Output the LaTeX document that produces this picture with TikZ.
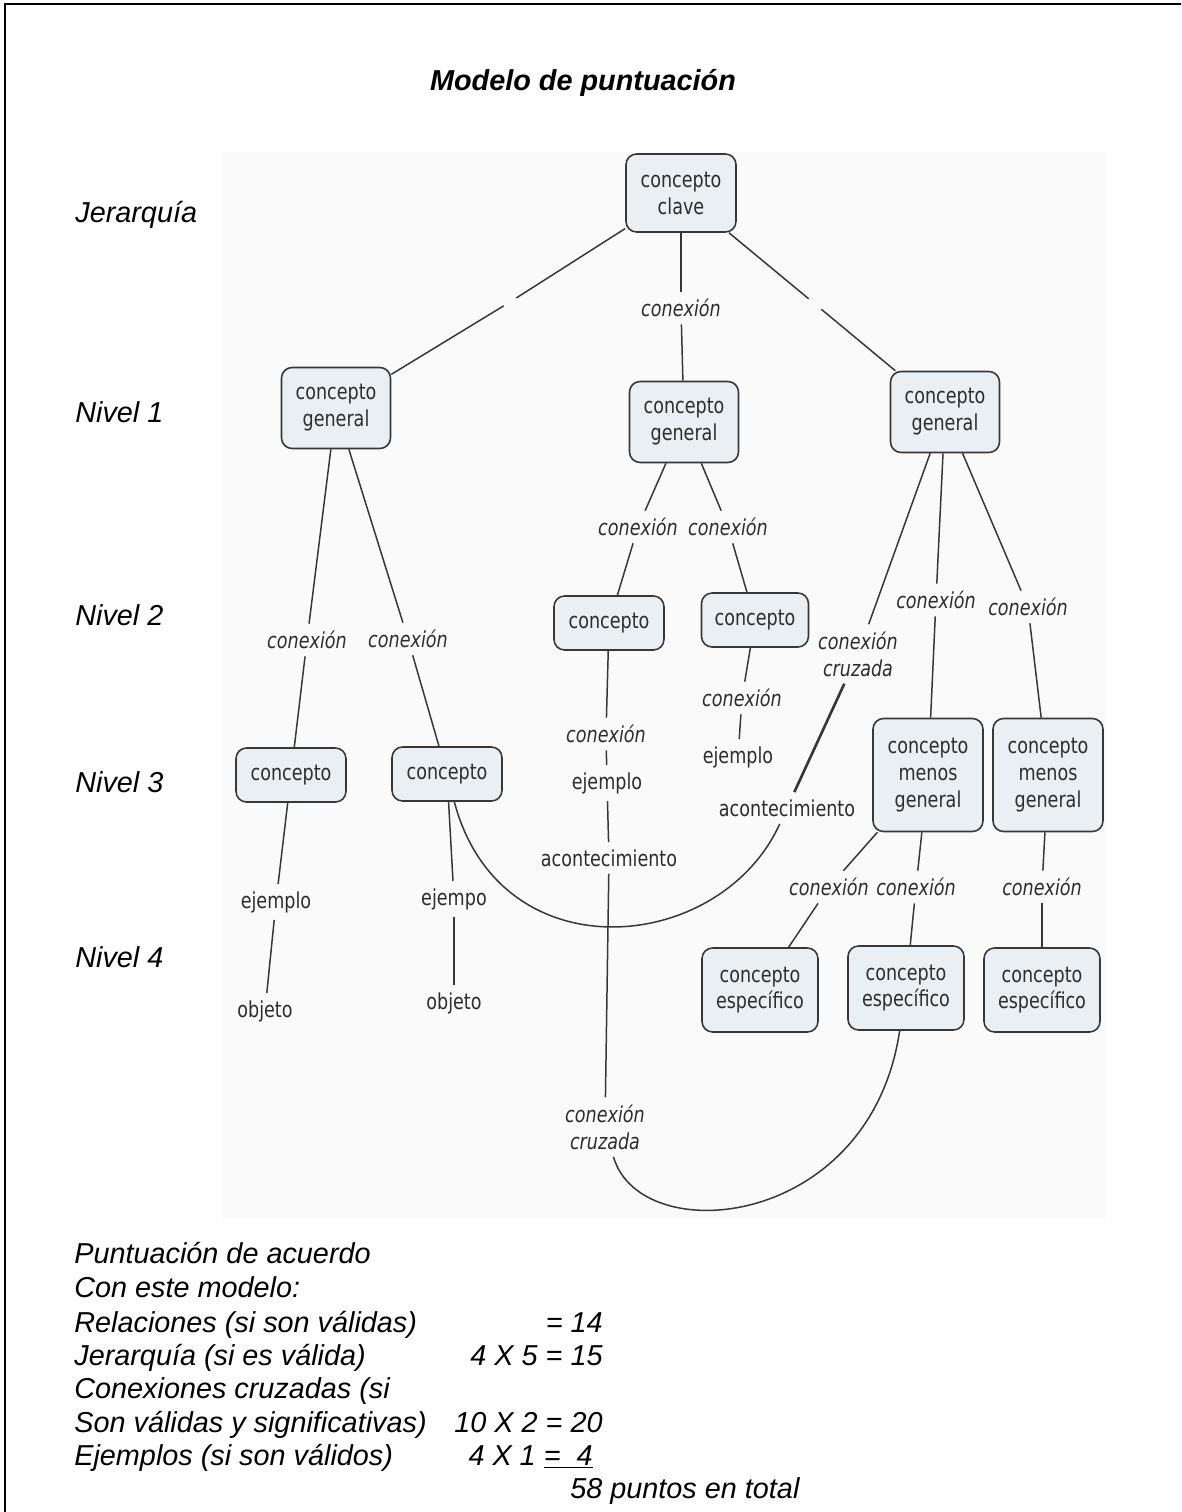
\documentclass[tikz,border=0pt]{standalone}
\usepackage{fontspec}
\setmainfont{Liberation Sans}
\newfontfamily\mapfont{DejaVu Sans}[FakeStretch=0.8]
\usetikzlibrary{positioning}
\definecolor{Ink}{RGB}{45,45,45}
\definecolor{Edge}{RGB}{55,55,55}
\definecolor{BoxFill}{RGB}{233,239,243}
\definecolor{MapBg}{RGB}{250,250,250}
\newcommand{\mapsize}{\fontsize{12.5}{15.3}\selectfont}
\newcommand{\notesize}{\fontsize{16.4}{19.5}\selectfont}
\tikzset{
  mapbox/.style={draw=Edge,fill=BoxFill,rounded corners=6pt,line width=0.9pt,font=\mapfont\mapsize,text=Ink,align=center,inner sep=2pt,minimum width=2.2cm,minimum height=1.08cm},
  genbox/.style={mapbox,minimum width=2.18cm,minimum height=1.62cm},
  lessbox/.style={mapbox,minimum height=2.26cm},
  specbox/.style={mapbox,minimum width=2.32cm,minimum height=1.68cm},
  linkword/.style={font=\mapfont\mapsize\itshape,text=Ink,align=center,inner sep=4pt},
  plainword/.style={font=\mapfont\mapsize,text=Ink,inner sep=4pt},
  gapnode/.style={inner sep=0pt,minimum size=0.24cm},
  link/.style={draw=Edge,line width=0.85pt},
  crosslink/.style={link,line width=1.5pt},
  levellabel/.style={font=\notesize\itshape,anchor=base west,inner sep=0pt},
  notetext/.style={font=\notesize\itshape,anchor=base west,inner sep=0pt},
  valtext/.style={font=\notesize\itshape,anchor=base east,inner sep=0pt}
}

\begin{document}
\begin{tikzpicture}[x=0.02cm,y=-0.02cm]
\useasboundingbox (0,0) rectangle (1181,1512);
\clip (0,0) rectangle (1181,1512);
% page frame and the pasted map area
\draw[line width=1.1pt] (5,4) rectangle (1200,1530);
\fill[MapBg] (222,152) rectangle (1106,1218);

\node[font=\notesize\bfseries\itshape,anchor=base] (title) at (583,90) {Modelo de puntuación};

\node[levellabel] (lvTop) at (75,222) {Jerarquía};
\node[levellabel] (lvOne) at (75,422) {Nivel 1};
\node[levellabel] (lvTwo) at (75,625) {Nivel 2};
\node[levellabel] (lvThree) at (75,792) {Nivel 3};
\node[levellabel] (lvFour) at (75,967) {Nivel 4};

% concepts
\node[mapbox,minimum height=1.56cm] (clave) at (681,193) {concepto\\clave};
\node[genbox] (genL) at (336,408) {concepto\\general};
\node[genbox] (genM) at (684,422) {concepto\\general};
\node[genbox] (genR) at (945,412) {concepto\\general};
\node[mapbox] (concA) at (609,623) {concepto};
\node[mapbox,minimum width=2.14cm] (concB) at (755,620) {concepto};
\node[mapbox] (concC) at (291,775) {concepto};
\node[mapbox] (concD) at (447,774) {concepto};
\node[lessbox] (lessA) at (928,775) {concepto\\menos\\general};
\node[lessbox] (lessB) at (1048,775) {concepto\\menos\\general};
\node[specbox] (specA) at (760,990) {concepto\\específico};
\node[specbox] (specB) at (906,988) {concepto\\específico};
\node[specbox] (specC) at (1042,990) {concepto\\específico};

% linking words
\node[linkword] (lkTop) at (681,308) {conexión};
\node[gapnode] (gapL) at (510,302) {};
\node[gapnode] (gapR) at (815,304) {};
\node[linkword] (lkL1) at (307,640) {conexión};
\node[linkword] (lkL2) at (408,639) {conexión};
\node[linkword] (lkM1) at (638,527) {conexión};
\node[linkword] (lkM2) at (728,527) {conexión};
\node[linkword] (lkA) at (606,734) {conexión};
\node[plainword] (exA) at (607,783) {ejemplo};
\node[plainword] (evA) at (609,858) {acontecimiento};
\node[linkword] (crossB) at (605,1127) {conexión\\cruzada};
\node[linkword] (lkB) at (742,698) {conexión};
\node[plainword] (exB) at (738,757) {ejemplo};
\node[linkword] (crossA) at (858,654) {conexión\\cruzada};
\node[plainword] (evB) at (787,808) {acontecimiento};
\node[linkword] (lkR1) at (936,600) {conexión};
\node[linkword] (lkR2) at (1028,607) {conexión};
\node[linkword] (lkS1) at (829,887) {conexión};
\node[linkword] (lkS2) at (916,887) {conexión};
\node[linkword] (lkS3) at (1042,887) {conexión};
\node[plainword] (exC) at (276,902) {ejemplo};
\node[plainword] (objC) at (265,1011) {objeto};
\node[plainword] (exD) at (454,899) {ejempo};
\node[plainword] (objD) at (454,1003) {objeto};

% connectors
\draw[link] (clave) -- (gapL);
\draw[link] (gapL) -- (genL);
\draw[link] (clave) -- (lkTop);
\draw[link] (lkTop) -- (genM);
\draw[link] (clave) -- (gapR);
\draw[link] (gapR) -- (genR);
\draw[link] (genL) -- (lkL1);
\draw[link] (lkL1) -- (concC);
\draw[link] (genL) -- (lkL2);
\draw[link] (lkL2) -- (concD);
\draw[link] (concC) -- (exC);
\draw[link] (exC) -- (objC);
\draw[link] (concD) -- (exD);
\draw[link] (exD) -- (objD);
\draw[link] (genM) -- (lkM1);
\draw[link] (lkM1) -- (concA);
\draw[link] (genM) -- (lkM2);
\draw[link] (lkM2) -- (concB);
\draw[link] (concA) -- (lkA);
\draw[link] (lkA) -- (exA);
\draw[link] (exA) -- (evA);
\draw[link] (evA) -- (crossB);
\draw[link] (concB) -- (lkB);
\draw[link] (lkB) -- (exB);
\draw[link] (genR) -- (crossA);
\draw[crosslink] (crossA) -- (evB);
\draw[link] (genR) -- (lkR1);
\draw[link] (lkR1) -- (lessA);
\draw[link] (genR) -- (lkR2);
\draw[link] (lkR2) -- (lessB);
\draw[link] (lessA) -- (lkS1);
\draw[link] (lkS1) -- (specA);
\draw[link] (lessA) -- (lkS2);
\draw[link] (lkS2) -- (specB);
\draw[link] (lessB) -- (lkS3);
\draw[link] (lkS3) -- (specC);
\draw[link] (evB) .. controls (720,955) and (500,975) .. (concD);
\draw[link] (specB) .. controls (870,1230) and (640,1250) .. (crossB);

% scoring notes
\node[notetext] (scoreA) at (74,1263) {Puntuación de acuerdo};
\node[notetext] (scoreB) at (74,1297) {Con este modelo:};
\node[notetext] (scoreC) at (74,1332) {Relaciones (si son válidas)};
\node[notetext] (scoreD) at (74,1365) {Jerarquía (si es válida)};
\node[notetext] (scoreE) at (74,1398) {Conexiones cruzadas (si};
\node[notetext] (scoreF) at (74,1432) {Son válidas y significativas)};
\node[notetext] (scoreG) at (74,1465) {Ejemplos (si son válidos)};
\node[valtext] (valC) at (603,1332) {= 14};
\node[valtext] (valD) at (603,1365) {4 X 5 = 15};
\node[valtext] (valF) at (603,1432) {10 X 2 = 20};
\node[valtext] (valG) at (593,1465) {4 X 1 \underline{=\ \ 4}};
\node[notetext] (total) at (570,1498) {58 puntos en total};
\end{tikzpicture}
\end{document}
